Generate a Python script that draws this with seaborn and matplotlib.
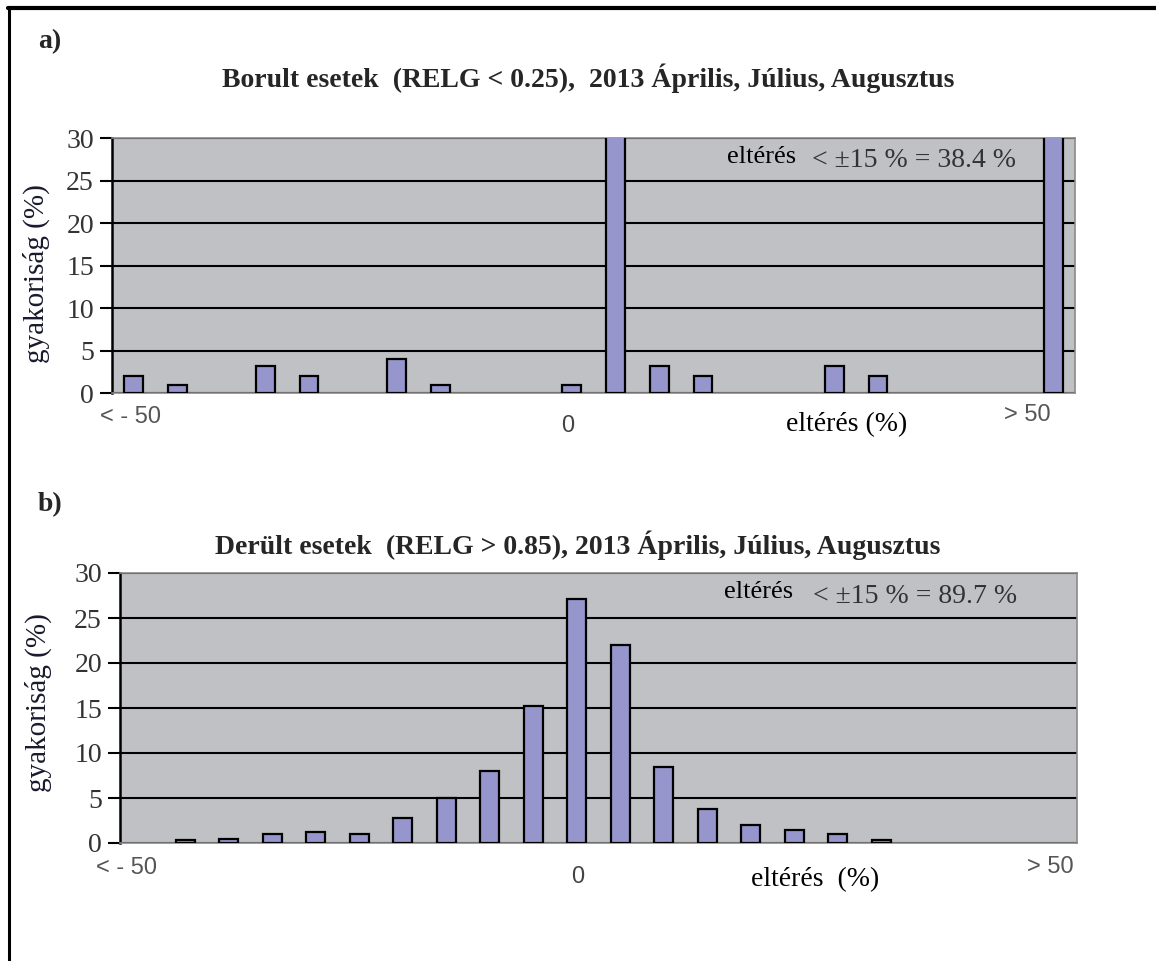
import matplotlib
matplotlib.use("Agg")
import matplotlib.pyplot as plt
from matplotlib.lines import Line2D
import seaborn as sns
import pandas as pd

# Deviation bins (5 % wide, with open-ended outer classes)
bins = ["<-50", "-50:-45", "-45:-40", "-40:-35", "-35:-30", "-30:-25",
        "-25:-20", "-20:-15", "-15:-10", "-10:-5", "-5:0", "0:5",
        "5:10", "10:15", "15:20", "20:25", "25:30", "30:35",
        "35:40", "40:45", "45:50", ">50"]

# Frequency (%) per bin – overcast cases (RELG < 0.25)
overcast = [2.0, 1.0, 0.0, 3.2, 2.0, 0.0, 4.0, 1.0, 0.0, 0.0, 1.0, 32.2,
            3.2, 2.0, 0.0, 0.0, 3.2, 2.0, 0.0, 0.0, 0.0, 43.2]

# Frequency (%) per bin – clear-sky cases (RELG > 0.85)
clear = [0.0, 0.3, 0.5, 1.0, 1.2, 1.0, 2.8, 5.0, 8.0, 15.2, 27.1, 22.0,
         8.5, 3.8, 2.0, 1.5, 1.0, 0.3, 0.0, 0.0, 0.0, 0.0]

titles = ["Borult esetek  (RELG < 0.25),  2013 Április, Július, Augusztus",
          "Derült esetek  (RELG > 0.85), 2013 Április, Július, Augusztus"]
panel_tags = ["a)", "b)"]
share_text = ["< ±15 % = 38.4 %", "< ±15 % = 89.7 %"]
xlabels = ["eltérés (%)", "eltérés  (%)"]
yticks = [0, 5, 10, 15, 20, 25, 30]

sns.set_theme(style="white")
SERIF = "Liberation Serif"
SANS = "Liberation Sans"
BAR = "#9696CC"
BG = "#C0C1C5"

W, H = 1156, 961
fig = plt.figure(figsize=(W / 100, H / 100), dpi=100)

# outer frame (left and top rules)
fig.add_artist(Line2D([9 / W, 9 / W], [0, 1 - 8 / H],
                      transform=fig.transFigure, color="black", lw=2.2))
fig.add_artist(Line2D([8 / W, 1], [1 - 8 / H, 1 - 8 / H],
                      transform=fig.transFigure, color="black", lw=3))

axes_rects = [
    [112 / W, 1 - 393 / H, (1075 - 112) / W, (393 - 138) / H],
    [120 / W, 1 - 843 / H, (1077 - 120) / W, (843 - 573) / H],
]

datasets = [overcast, clear]

# per-panel label placement (data x, axes-fraction y)
label_pos = [
    {"lt": (-0.07, -0.095), "zero": (9.92, -0.128), "xl": (16.29, -0.125),
     "gt": (20.4, -0.086), "elt": (14.33, 0.925), "share": (17.82, 0.912),
     "ylab": (-0.064, 0.47)},
    {"lt": (-0.34, -0.093), "zero": (10.03, -0.126), "xl": (15.48, -0.137),
     "gt": (20.88, -0.089), "elt": (14.17, 0.93), "share": (17.78, 0.912),
     "ylab": (-0.071, 0.52)},
]

tag_xy = [(38 / W, 1 - 42 / H), (38 / W, 1 - 505 / H)]
title_xy = [(588 / W, 1 - 78 / H), (578 / W, 1 - 545 / H)]

for k in range(2):
    ax = fig.add_axes(axes_rects[k])
    df = pd.DataFrame({"bin": bins, "freq": datasets[k]})
    sns.barplot(data=df, x="bin", y="freq", order=bins, color=BAR,
                saturation=1, width=0.43, edgecolor="black", linewidth=1.6,
                ax=ax, zorder=3)
    for p in ax.patches:
        if p.get_height() == 0:
            p.set_visible(False)
        p.set_facecolor(BAR)

    ax.set_facecolor(BG)
    ax.set_xlim(-0.5, len(bins) - 0.5)
    ax.set_ylim(0, 30)
    ax.set_yticks(yticks)
    ax.yaxis.grid(True, color="black", linewidth=1.5, zorder=1)
    ax.set_axisbelow(True)
    ax.set_xticks([])
    ax.set_xlabel("")
    lp = label_pos[k]
    ax.set_ylabel("gyakoriság (%)", family=SERIF, fontsize=21,
                  color="#1a1a2e")
    ax.yaxis.set_label_coords(*lp["ylab"])
    ax.tick_params(axis="y", direction="out", length=9, width=1.5,
                   color="black", left=True, pad=4, labelsize=20)
    for lab in ax.get_yticklabels():
        lab.set_family(SERIF)
        lab.set_color("#333333")
    ax.spines["left"].set_color("black")
    ax.spines["left"].set_linewidth(1.8)
    for s in ["top", "right", "bottom"]:
        ax.spines[s].set_color("#8a8a8a")
        ax.spines[s].set_linewidth(1.2)

    tr = ax.get_xaxis_transform()
    ax.text(*lp["lt"], "< - 50", transform=tr, family=SANS, fontsize=17,
            color="#555555", ha="center", va="center")
    ax.text(*lp["zero"], "0", transform=tr, family=SANS, fontsize=17,
            color="#444444", ha="center", va="center")
    ax.text(*lp["xl"], xlabels[k], transform=tr, family=SERIF, fontsize=20,
            color="black", ha="center", va="center")
    ax.text(*lp["gt"], "> 50", transform=tr, family=SANS, fontsize=17,
            color="#555555", ha="center", va="center")
    ax.text(*lp["elt"], "eltérés", transform=tr, family=SERIF, fontsize=19,
            color="black", ha="center", va="center", zorder=5)
    ax.text(*lp["share"], share_text[k], transform=tr, family=SERIF,
            fontsize=20, color="#333333", ha="center", va="center", zorder=5)

    fig.text(*tag_xy[k], panel_tags[k], family=SERIF,
             fontweight="bold", fontsize=20, ha="left", va="center")
    fig.text(*title_xy[k], titles[k], family=SERIF, fontweight="bold",
             fontsize=20, ha="center", va="center")

fig.savefig("out.png", dpi=100, facecolor="white")
